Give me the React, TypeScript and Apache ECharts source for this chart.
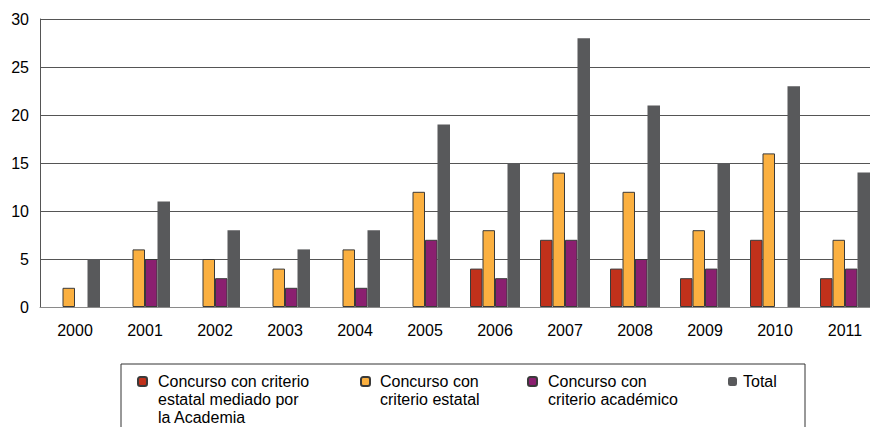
import React, { useEffect, useRef } from "react";
import * as echarts from "echarts";

const years = ["2000", "2001", "2002", "2003", "2004", "2005", "2006", "2007", "2008", "2009", "2010", "2011"];
const seriesNames = [
  "Concurso con criterio estatal mediado por la Academia",
  "Concurso con criterio estatal",
  "Concurso con criterio académico",
  "Total",
];
const legendLines = [
  ["Concurso con criterio", "estatal mediado por", "la Academia"],
  ["Concurso con", "criterio estatal"],
  ["Concurso con", "criterio académico"],
  ["Total"],
];
const mediado = [0, 0, 0, 0, 0, 0, 4, 7, 4, 3, 7, 3];
const estatal = [2, 6, 5, 4, 6, 12, 8, 14, 12, 8, 16, 7];
const academico = [0, 5, 3, 2, 2, 7, 3, 7, 5, 4, 0, 4];
const total = [5, 11, 8, 6, 8, 19, 15, 28, 21, 15, 23, 14];
const yMin = 0;
const yMax = 30;
const yStep = 5;

const colors = ["#c1311b", "#fbb040", "#8b1f70", "#58595b"];
const FONT = "'Liberation Sans', Arial, sans-serif";

export default function App() {
  const ref = useRef<HTMLDivElement>(null);
  useEffect(() => {
    if (!ref.current) return;
    const chart = echarts.init(ref.current, undefined, { renderer: "svg" });
    const values = [mediado, estatal, academico, total];
    const legendLeft = [137, 360, 527, 728];
    const textPadLeft = [6, 5, 6, 1];
    const LH = 18;
    const firstLineCenter = 381.5;
    chart.setOption({
      animation: false,
      textStyle: { fontFamily: FONT },
      grid: { left: 40, right: 0, top: 19, bottom: 120 },
      xAxis: {
        type: "category",
        data: years,
        axisTick: { show: false },
        axisLine: { lineStyle: { color: "#8a8a8a", width: 1 } },
        axisLabel: { color: "#000", fontSize: 16, margin: 15, fontFamily: FONT },
      },
      yAxis: {
        type: "value",
        min: yMin,
        max: yMax,
        interval: yStep,
        axisLine: { show: true, lineStyle: { color: "#555", width: 1 } },
        axisTick: { show: false },
        splitLine: { lineStyle: { color: "#555", width: 1 } },
        axisLabel: { color: "#000", fontSize: 16, margin: 11, fontFamily: FONT },
      },
      legend: legendLines.map((lines, i) => ({
        data: [seriesNames[i]],
        left: legendLeft[i],
        top: firstLineCenter - ((2 * lines.length - 1) * LH) / 2,
        padding: 0,
        itemWidth: 9,
        itemHeight: 9,
        selectedMode: false,
        formatter: () => "\n".repeat(lines.length - 1) + lines.join("\n"),
        textStyle: {
          color: "#000",
          fontSize: 16,
          lineHeight: LH,
          fontFamily: FONT,
          padding: [0, 0, 0, textPadLeft[i]],
        },
      })),
      graphic: [
        {
          type: "rect",
          shape: { x: 121, y: 364, width: 684, height: 80 },
          style: { fill: "none", stroke: "#333", lineWidth: 1 },
          silent: true,
        },
      ],
      series: seriesNames.map((name, i) => ({
        name,
        type: "bar",
        data: values[i].map((v) => (v === 0 ? null : v)),
        barWidth: 12.5,
        barGap: "0%",
        itemStyle: {
          color: colors[i],
          borderColor: i === 3 ? colors[i] : "#3a3a3a",
          borderWidth: i === 3 ? 0 : 1,
        },
      })),
    });
    return () => chart.dispose();
  }, []);
  return (
    <div
      style={{ position: "absolute", left: 0, top: 0, width: 870, height: 427, overflow: "hidden", background: "#fff" }}
    >
      <div ref={ref} style={{ width: 880, height: 427 }} />
    </div>
  );
}
